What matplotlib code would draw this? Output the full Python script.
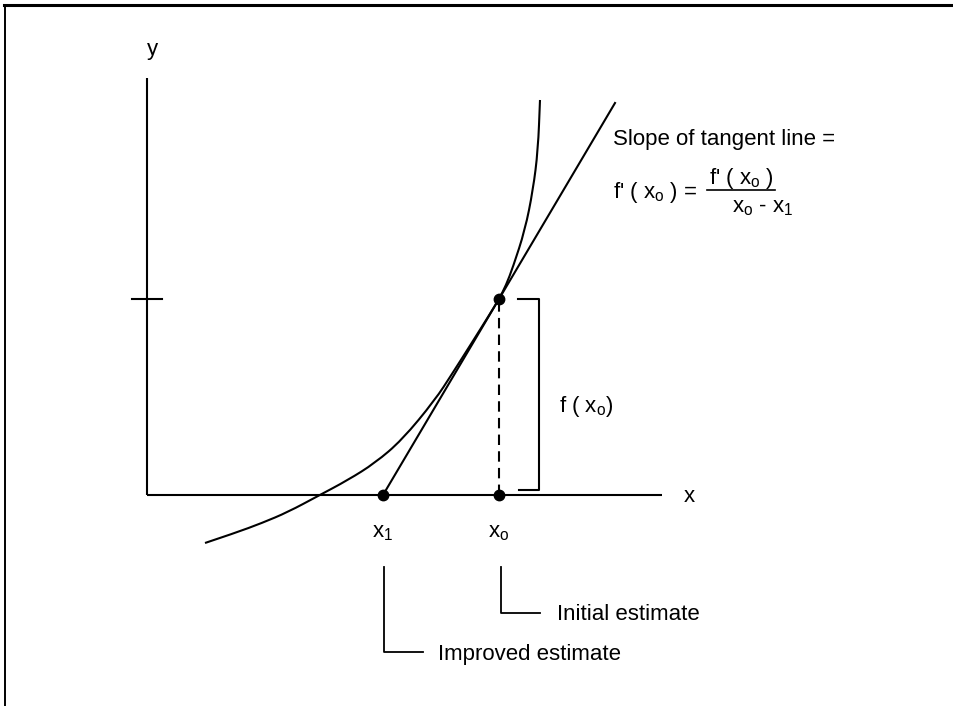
import matplotlib
matplotlib.use("Agg")
import matplotlib.pyplot as plt
from matplotlib.path import Path
from matplotlib.patches import PathPatch
from matplotlib.lines import Line2D

plt.rcParams['font.family'] = ['Liberation Sans', 'DejaVu Sans']
plt.rcParams['mathtext.fontset'] = 'custom'
plt.rcParams['mathtext.rm'] = 'Liberation Sans'
plt.rcParams['mathtext.it'] = 'Liberation Sans'

# ---- data (diagram units, origin at axes corner) ----
curve_x = [58, 88, 115, 141, 171, 201, 228, 255, 288, 305, 325, 342, 352, 359, 366, 378, 386, 391, 393]
curve_y = [-48, -38, -28, -17, -1, 15, 32, 55, 95, 121, 152.5, 179.6, 196, 209.7, 228, 265, 305, 345, 395]
x0 = 352          # initial estimate
x1 = 236          # improved estimate
f_x0 = 196        # f(x0)
tangent_top_y = 392
y_axis_top = 417
x_axis_right = 515

FS = 16

# ---- figure ----
fig = plt.figure(figsize=(9.54, 7.06), dpi=100)
ax = fig.add_axes([0, 0, 1, 1])
ax.set_xlim(-147, 807)
ax.set_ylim(-211, 495)
ax.axis('off')

lw = 1.5
# frame of the page
fig.add_artist(Line2D([4 / 954, 1], [1 - 5 / 706, 1 - 5 / 706], transform=fig.transFigure, color='black', lw=2.2))
fig.add_artist(Line2D([5 / 954, 5 / 954], [0, 1 - 5 / 706], transform=fig.transFigure, color='black', lw=1.4))

# axes
ax.plot([0, 0], [0, y_axis_top], color='black', lw=lw, solid_capstyle='butt')
ax.plot([0, x_axis_right], [0, 0], color='black', lw=lw, solid_capstyle='butt')
ax.plot([-15, 15], [f_x0, f_x0], color='black', lw=lw)
ax.text(5, 445, 'y', fontsize=FS, ha='center', va='center')
ax.text(542, -1, 'x', fontsize=FS, ha='center', va='center')

# smooth curve through read points (quadratic B-spline via midpoints)
pts = list(zip(curve_x, curve_y))
verts = [pts[0]]
codes = [Path.MOVETO]
for i in range(1, len(pts) - 1):
    mid = ((pts[i][0] + pts[i + 1][0]) / 2, (pts[i][1] + pts[i + 1][1]) / 2)
    verts += [pts[i], mid]
    codes += [Path.CURVE3, Path.CURVE3]
verts.append(pts[-1])
codes.append(Path.LINETO)
ax.add_patch(PathPatch(Path(verts, codes), fill=False, lw=lw, edgecolor='black', capstyle='butt'))

# tangent line
slope = f_x0 / (x0 - x1)
x_top = x1 + tangent_top_y / slope
ax.plot([x1, x_top], [0, tangent_top_y], color='black', lw=lw)

# dashed vertical
ax.plot([x0, x0], [0, f_x0], color='black', lw=lw, dashes=(5, 3))

# dots
ax.plot([x1, x0, x0], [0, 0, f_x0], 'o', color='black', ms=7.5)

# bracket for f(x0)
bx = x0 + 40
ax.plot([x0 + 19, bx, bx, x0 + 20], [f_x0, f_x0, 5, 5], color='black', lw=lw)
ax.text(x0 + 60, 83, r"f ( x$_\mathregular{o}$)", fontsize=FS, ha='left', va='baseline')

# x labels
ax.text(x1, -42, r"x$_\mathregular{1}$", fontsize=FS, ha='center', va='baseline')
ax.text(x0, -42, r"x$_\mathregular{o}$", fontsize=FS, ha='center', va='baseline')

# leader lines
ax.plot([x0 + 2, x0 + 2, x0 + 41], [-72, -118, -118], color='black', lw=1.3)
ax.text(x0 + 58, -125, 'Initial estimate', fontsize=FS, ha='left', va='baseline')
ax.plot([x1 + 1, x1 + 1, x1 + 40], [-72, -157, -157], color='black', lw=1.3)
ax.text(x1 + 55, -165, 'Improved estimate', fontsize=FS, ha='left', va='baseline')

# slope annotation
ax.text(466, 350, 'Slope of tangent line =', fontsize=FS, ha='left', va='baseline')
ax.text(466, 297, r"f' ( x$_\mathregular{o}$ ) =", fontsize=FS, ha='left', va='baseline')
ax.text(594, 311, r"f' ( x$_\mathregular{o}$ )", fontsize=FS, ha='center', va='baseline')
ax.plot([560, 628], [305, 305], color='black', lw=1.2)
ax.text(616, 283, r"x$_\mathregular{o}$ - x$_\mathregular{1}$", fontsize=FS, ha='center', va='baseline')

fig.savefig('out.png', dpi=100)
